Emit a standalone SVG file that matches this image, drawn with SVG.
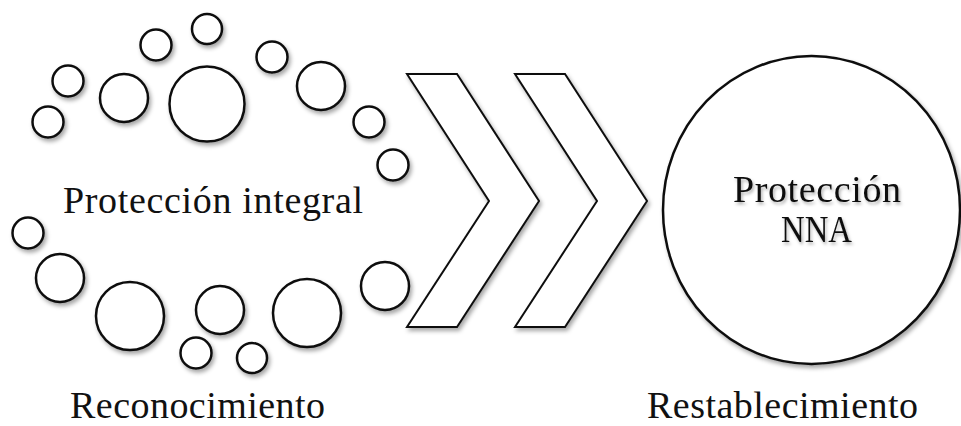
<svg xmlns="http://www.w3.org/2000/svg" width="961" height="426" viewBox="0 0 961 426">
<defs>
<filter id="sh" x="-20%" y="-20%" width="150%" height="150%">
<feDropShadow dx="2" dy="3" stdDeviation="2" flood-color="#000" flood-opacity="0.35"/>
</filter>
<filter id="tsh" x="-10%" y="-30%" width="130%" height="170%">
<feDropShadow dx="1.5" dy="2.5" stdDeviation="1.5" flood-color="#000" flood-opacity="0.3"/>
</filter>
</defs>
<style>
.c{fill:#fff;stroke:#111;stroke-width:2.5;filter:url(#sh)}
.ch{fill:#fff;stroke:#111;stroke-width:2;stroke-linejoin:miter;filter:url(#sh)}
.t{font-family:"Liberation Serif","Times New Roman",serif;font-size:38px;fill:#111}
.ts{filter:url(#tsh)}
</style>
<rect width="961" height="426" fill="#fff"/>
<g id="cluster">
<circle class="c" cx="48" cy="122" r="15.5"/>
<circle class="c" cx="68" cy="81" r="15.5"/>
<circle class="c" cx="124" cy="98" r="24"/>
<circle class="c" cx="207" cy="104" r="37.5"/>
<circle class="c" cx="156" cy="45" r="15.5"/>
<circle class="c" cx="207" cy="29" r="15"/>
<circle class="c" cx="272" cy="57" r="15.5"/>
<circle class="c" cx="321" cy="86" r="24"/>
<circle class="c" cx="369" cy="122" r="15.5"/>
<circle class="c" cx="393" cy="165" r="15.5"/>
<circle class="c" cx="28" cy="233" r="15.5"/>
<circle class="c" cx="60" cy="278" r="24"/>
<circle class="c" cx="130" cy="316" r="34"/>
<circle class="c" cx="220" cy="310" r="24"/>
<circle class="c" cx="196" cy="353" r="15.5"/>
<circle class="c" cx="252" cy="358" r="15"/>
<circle class="c" cx="307" cy="313" r="34"/>
<circle class="c" cx="385" cy="286" r="24"/>
</g>
<g id="label-integral">
<text class="t" x="63" y="213" textLength="300" lengthAdjust="spacing">Protección integral</text>
</g>
<g id="chevron1">
<polygon class="ch" points="407,74 457,74 539,201 457,327 407,327 489,201"/>
</g>
<g id="chevron2">
<polygon class="ch" points="515,74 565,74 647,201 565,327 515,327 597,201"/>
</g>
<g id="nna">
<ellipse class="c" cx="811.5" cy="210" rx="148.5" ry="154"/>
<text class="t ts" x="733" y="202" textLength="168" lengthAdjust="spacing">Protección</text>
<text class="t ts" x="781" y="242" textLength="71" lengthAdjust="spacingAndGlyphs">NNA</text>
</g>
<g id="label-reconocimiento">
<text class="t" x="70" y="418" textLength="255" lengthAdjust="spacing">Reconocimiento</text>
</g>
<g id="label-restablecimiento">
<text class="t" x="647" y="418" textLength="271" lengthAdjust="spacing">Restablecimiento</text>
</g>
<g id="connectors"></g>
</svg>
